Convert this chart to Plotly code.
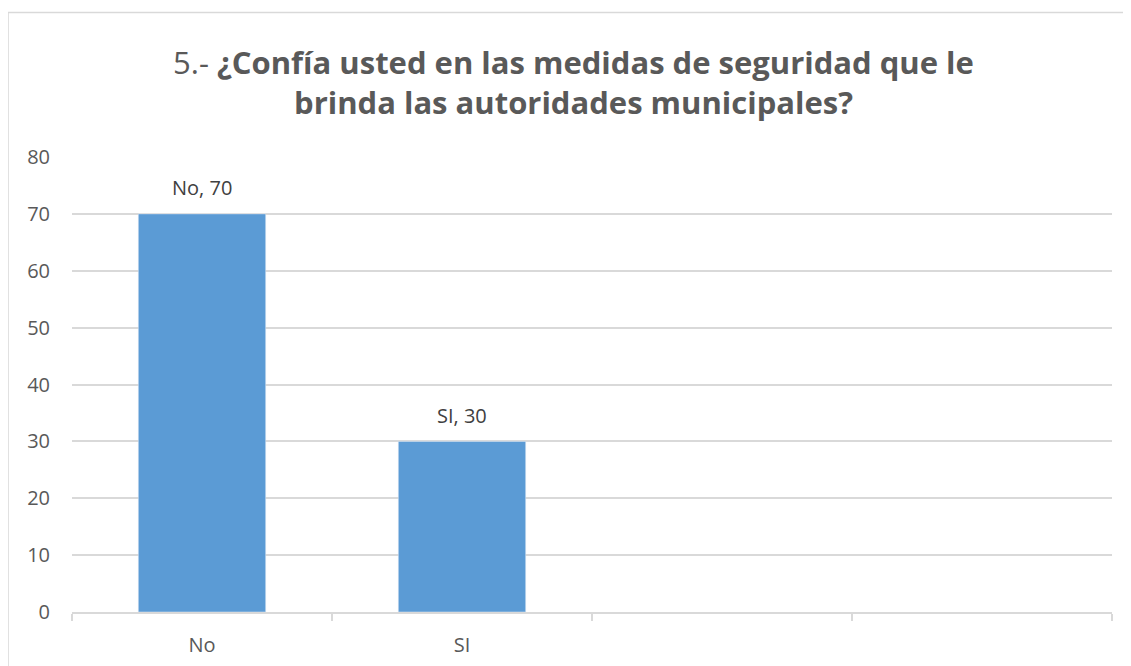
import plotly.graph_objects as go

# data
categories = ["No", "SI", " ", "  "]
values = [70, 30, None, None]
y_ticks = [0, 10, 20, 30, 40, 50, 60, 70, 80]

BAR = "#5B9BD5"
GRID = "#D9D9D9"
TEXT = "#595959"
FONT = "Open Sans"

fig = go.Figure(go.Bar(
    x=categories, y=values,
    marker_color=BAR,
    width=0.49,
    hoverinfo="x+y",
))

# data labels "Cat, value" above each bar
for c, v in zip(categories, values):
    if v is None:
        continue
    fig.add_annotation(
        x=c, y=v, text=f"{c}, {v}",
        showarrow=False, yanchor="middle", yshift=26,
        font={"size": 20, "color": "#404040", "family": FONT},
    )

fig.update_layout(
    width=1131, height=666,
    paper_bgcolor="white", plot_bgcolor="white",
    margin=dict(l=64, r=27, t=149, b=62),
    showlegend=False,
    font={"family": FONT, "color": TEXT},
    title={
        "text": "5.- <b>¿Confía usted en las medidas de seguridad que le<br>brinda las autoridades municipales?</b>",
        "x": 0.5, "xanchor": "center", "y": 0.9016, "yanchor": "middle",
        "font": {"size": 31, "color": TEXT, "family": FONT},
    },
    xaxis={
        "type": "category",
        "tickson": "boundaries",
        "ticks": "outside", "ticklen": 7, "tickcolor": GRID, "tickwidth": 2,
        "showline": True, "linecolor": GRID, "linewidth": 2,
        "showgrid": False,
        "tickfont": {"size": 20, "color": TEXT},
        "ticklabelstandoff": 14,
        "range": [-0.5, 3.5],
    },
    yaxis={
        "range": [0, 80],
        "tickvals": y_ticks,
        "showgrid": True, "gridcolor": GRID, "gridwidth": 1.5,
        "zeroline": False,
        "ticks": "", "ticklen": 0,
        "tickfont": {"size": 20, "color": TEXT},
        "ticklabelstandoff": 21,
    },
    shapes=[dict(
        type="rect", xref="paper", yref="paper",
        x0=-0.0615, x1=1.2, y0=-0.3, y1=1.3176,
        line={"color": GRID, "width": 1.5}, fillcolor="rgba(0,0,0,0)",
        layer="below",
    )],
)

fig.write_html("out.html")
